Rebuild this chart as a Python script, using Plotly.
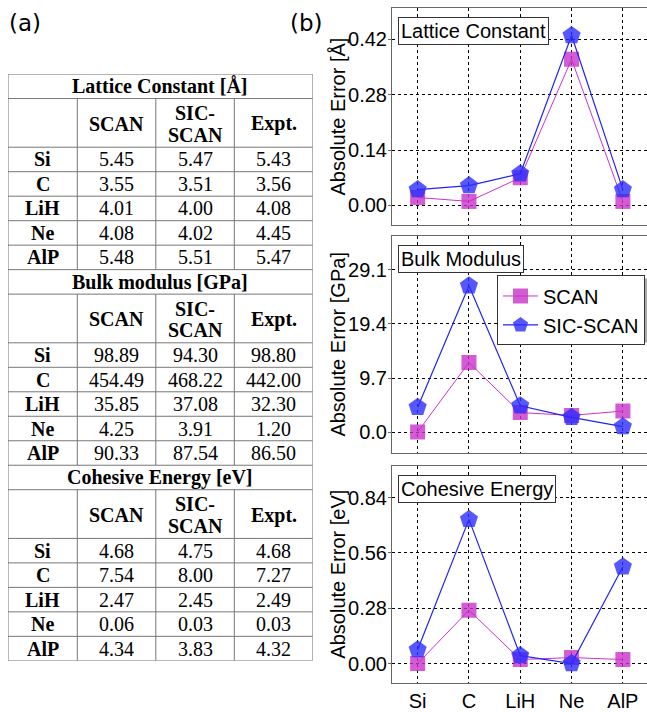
import plotly.graph_objects as go

W, H = 647, 712

materials = ["Si", "C", "LiH", "Ne", "AlP"]
methods = ["SCAN", ["SIC-", "SCAN"], "Expt."]

# Table (a): SCAN, SIC-SCAN and experimental values
lattice_scan = [5.45, 3.55, 4.01, 4.08, 5.48]
lattice_sic = [5.47, 3.51, 4.00, 4.02, 5.51]
lattice_expt = [5.43, 3.56, 4.08, 4.45, 5.47]

bulk_scan = [98.89, 454.49, 35.85, 4.25, 90.33]
bulk_sic = [94.30, 468.22, 37.08, 3.91, 87.54]
bulk_expt = [98.80, 442.00, 32.30, 1.20, 86.50]

cohesive_scan = [4.68, 7.54, 2.47, 0.06, 4.34]
cohesive_sic = [4.75, 8.00, 2.45, 0.03, 3.83]
cohesive_expt = [4.68, 7.27, 2.49, 0.03, 4.32]

# Panel (b): absolute errors against experiment
lattice_err_scan = [0.02, 0.01, 0.07, 0.37, 0.01]
lattice_err_sic = [0.04, 0.05, 0.08, 0.43, 0.04]
bulk_err_scan = [0.09, 12.49, 3.55, 3.05, 3.83]
bulk_err_sic = [4.50, 26.22, 4.78, 2.71, 1.04]
cohesive_err_scan = [0.00, 0.27, 0.02, 0.03, 0.02]
cohesive_err_sic = [0.07, 0.73, 0.04, 0.00, 0.49]

lattice_ticks = [0.00, 0.14, 0.28, 0.42]
bulk_ticks = [0.0, 9.7, 19.4, 29.1]
cohesive_ticks = [0.00, 0.28, 0.56, 0.84]

blocks = [
    ("Lattice Constant [Å]", lattice_scan, lattice_sic, lattice_expt),
    ("Bulk modulus [GPa]", bulk_scan, bulk_sic, bulk_expt),
    ("Cohesive Energy [eV]", cohesive_scan, cohesive_sic, cohesive_expt),
]

panels = [
    ("Lattice Constant", "Absolute Error [Å]", lattice_err_scan, lattice_err_sic,
     lattice_ticks, ".2f", [-0.05, 0.5], (8, 228)),
    ("Bulk Modulus", "Absolute Error [GPa]", bulk_err_scan, bulk_err_sic,
     bulk_ticks, ".1f", [-3.7, 35.1], (239, 459)),
    ("Cohesive Energy", "Absolute Error [eV]", cohesive_err_scan, cohesive_err_sic,
     cohesive_ticks, ".2f", [-0.1, 1.0], (472, 692)),
]

SANS = "Liberation Sans"
SERIF = "Liberation Serif"
SCAN_LINE = "#cc33cc"
SCAN_FILL = "rgba(200,50,200,0.8)"
SIC_LINE = "#2323ee"
SIC_FILL = "rgba(45,45,255,0.8)"

fig = go.Figure()
shapes = []
annotations = []

# ---- line plots (b) ----
x_left = 392
for i, (label, ytitle, e_scan, e_sic, ticks, fmt, yrange, (top, bottom)) in enumerate(panels):
    n = "" if i == 0 else str(i + 1)
    xa, ya = "x" + n, "y" + n
    fig.add_trace(go.Scatter(
        x=materials, y=e_scan, name="SCAN", mode="lines+markers",
        line=dict(color=SCAN_LINE, width=1),
        marker=dict(symbol="square", size=15, color=SCAN_FILL),
        xaxis=xa, yaxis=ya, showlegend=(i == 0), legendrank=1))
    fig.add_trace(go.Scatter(
        x=materials, y=e_sic, name="SIC-SCAN", mode="lines+markers",
        line=dict(color=SIC_LINE, width=1.2),
        marker=dict(symbol="pentagon", size=19, color=SIC_FILL),
        xaxis=xa, yaxis=ya, showlegend=(i == 0), legendrank=2))

    xkey = "xaxis" + n
    ykey = "yaxis" + n
    fig.layout[xkey] = dict(
        domain=[x_left / W, 1.0], anchor=ya, type="category",
        range=[-0.5, 4.47], showline=True, mirror=True, linecolor="#666",
        linewidth=1, showgrid=True, gridcolor="black", griddash="dot",
        gridwidth=1, ticks="", showticklabels=(i == 2),
        tickfont=dict(family=SANS, size=20, color="black"),
    )
    fig.layout[ykey] = dict(
        domain=[1 - bottom / H, 1 - top / H], anchor=xa, range=yrange,
        tickvals=ticks, tickformat=fmt, showline=True, linecolor="#666",
        linewidth=1, showgrid=True, gridcolor="black", griddash="dot",
        gridwidth=1, zeroline=False, ticks="outside", ticklen=3,
        tickcolor="#666", ticklabelstandoff=-3,
        tickfont=dict(family=SANS, size=20, color="black"),
    )
    # vertical axis title
    annotations.append(dict(
        text=ytitle, xref="paper", yref="paper", x=338 / W,
        y=1 - (top + bottom) / 2 / H, xanchor="center", yanchor="middle",
        textangle=-90, showarrow=False,
        font=dict(family=SANS, size=20, color="black")))
    # panel caption box
    annotations.append(dict(
        text=label, xref="paper", yref="paper", x=398 / W, y=1 - (top + 9) / H,
        xanchor="left", yanchor="top", showarrow=False,
        font=dict(family=SANS, size=20, color="black"),
        bgcolor="white", bordercolor="#333", borderwidth=1, borderpad=2))

# legend drop shadow
leg_top = 279
shapes.append(dict(type="rect", xref="paper", yref="paper",
                   x0=500 / W, x1=648.5 / W, y0=1 - (leg_top + 68) / H,
                   y1=1 - (leg_top + 3) / H,
                   fillcolor="#aaaaaa", line=dict(width=0), layer="above"))

# ---- table (a) on a hidden axis pair ----
col_w = [69.3, 78.5, 78.5, 78.4]
title_h, head_h, row_h = 24.8, 49.3, 24.8
col_x = [0]
for w in col_w:
    col_x.append(col_x[-1] + w)
total_w = col_x[-1]
block_h = title_h + head_h + row_h * len(materials)
total_h = block_h * len(blocks)

grid = dict(color="#777", width=1)
txt = dict(family=SERIF, size=20, color="black")


def hline(y):
    shapes.append(dict(type="line", xref="x4", yref="y4", x0=0, x1=total_w,
                       y0=y, y1=y, line=grid))


def vline(x, y0, y1):
    shapes.append(dict(type="line", xref="x4", yref="y4", x0=x, x1=x,
                       y0=y0, y1=y1, line=grid))


def cell_text(s, x, y):
    annotations.append(dict(text=s, xref="x4", yref="y4", x=x, y=y,
                            xanchor="center", yanchor="middle",
                            showarrow=False, font=txt))


for b, (title, v_scan, v_sic, v_expt) in enumerate(blocks):
    y0 = b * block_h
    hline(y0)
    cell_text("<b>%s</b>" % title, total_w / 2, y0 + title_h / 2)
    yh = y0 + title_h
    hline(yh)
    centers = [(col_x[j] + col_x[j + 1]) / 2 for j in range(4)]
    for j, m in enumerate(methods):
        yc = yh + head_h / 2 + 1
        if isinstance(m, list):
            cell_text("<b>%s</b>" % m[0], centers[j + 1], yc - 11)
            cell_text("<b>%s</b>" % m[1], centers[j + 1], yc + 11)
        else:
            cell_text("<b>%s</b>" % m, centers[j + 1], yc)
    yr = yh + head_h
    for k, mat in enumerate(materials):
        hline(yr + k * row_h)
        yc = yr + (k + 0.5) * row_h
        cell_text("<b>%s</b>" % mat, centers[0], yc)
        for j, vals in enumerate((v_scan, v_sic, v_expt)):
            cell_text("%.2f" % vals[k], centers[j + 1], yc)
    yend = y0 + block_h
    for x in col_x[1:-1]:
        vline(x, yh, yend)
hline(total_h)
vline(0, 0, total_h)
vline(total_w, 0, total_h)

t_top, t_left = 75, 8
fig.layout["xaxis4"] = dict(domain=[t_left / W, (t_left + total_w) / W],
                            range=[0, total_w], visible=False, anchor="y4")
fig.layout["yaxis4"] = dict(domain=[1 - (t_top + total_h) / H, 1 - t_top / H],
                            range=[total_h, 0], visible=False, anchor="x4")

# panel labels
for lab, xp in (("(a)", 7), ("(b)", 288)):
    annotations.append(dict(text=lab, xref="paper", yref="paper",
                            x=xp / W, y=1 - 23 / H, xanchor="left",
                            yanchor="middle", showarrow=False,
                            font=dict(family="DejaVu Sans", size=23,
                                      color="black")))

fig.update_layout(
    width=W, height=H, margin=dict(l=0, r=0, t=0, b=0),
    paper_bgcolor="white", plot_bgcolor="white",
    shapes=shapes, annotations=annotations,
    showlegend=True,
    legend=dict(x=497 / W, y=1 - leg_top / H, xanchor="left", yanchor="top",
                bgcolor="white", bordercolor="#333", borderwidth=1,
                font=dict(family=SANS, size=20, color="black"),
                tracegroupgap=0, itemwidth=35),
)

fig.write_html("out.html")
